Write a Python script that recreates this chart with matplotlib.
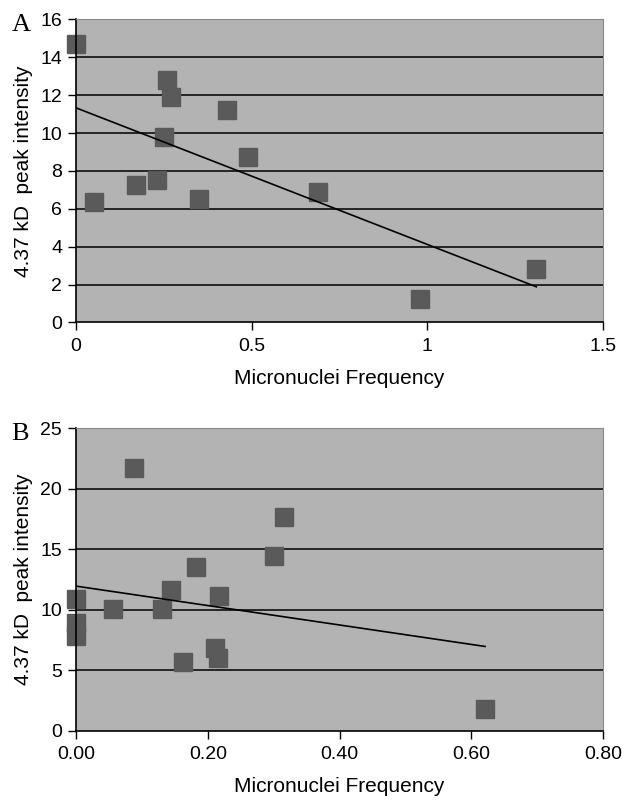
import numpy as np
import matplotlib
matplotlib.use("Agg")
import matplotlib.pyplot as plt

# panel A data
freq_a = [0.0, 0.26, 0.27, 0.43, 0.25, 0.49, 0.17, 0.23, 0.05, 0.35, 0.69, 0.98, 1.31]
peak_a = [14.7, 12.8, 11.9, 11.2, 9.8, 8.75, 7.26, 7.53, 6.38, 6.5, 6.9, 1.26, 2.82]

# panel B data
freq_b = [0.0875, 0.315, 0.300, 0.182, 0.144, 0.217, 0.0, 0.0555, 0.13, 0.0, 0.0,
          0.211, 0.216, 0.163, 0.621]
peak_b = [21.7, 17.65, 14.45, 13.5, 11.6, 11.1, 10.9, 10.05, 10.1, 8.9, 7.8,
          6.83, 6.0, 5.72, 1.8]

xticks_a = [0, 0.5, 1, 1.5]
xticklabels_a = ["0", "0.5", "1", "1.5"]
yticks_a = [0, 2, 4, 6, 8, 10, 12, 14, 16]
xticks_b = [0, 0.2, 0.4, 0.6, 0.8]
xticklabels_b = ["0.00", "0.20", "0.40", "0.60", "0.80"]
yticks_b = [0, 5, 10, 15, 20, 25]

plt.rcParams["font.family"] = ["Liberation Sans", "DejaVu Sans"]

bg = "#b3b3b3"
mark = "#5a5a5a"

fig = plt.figure(figsize=(6.22, 8.0), dpi=100)
ax_a = fig.add_axes([0.1222, 0.5969, 0.8473, 0.3788])
ax_b = fig.add_axes([0.1222, 0.0866, 0.8473, 0.3780])


def draw_panel(ax, x, y, xticks, xlabels, yticks, letter):
    ax.set_facecolor(bg)
    for t in yticks[1:-1]:
        ax.axhline(t, color="black", lw=1.1, zorder=1)
    ax.plot(x, y, "s", ms=13.5, color=mark, mec=mark, zorder=2, clip_on=False)

    # linear trendline over the data range
    k, b = np.polyfit(x, y, 1)
    xs = np.array([min(x), max(x)])
    ax.plot(xs, k * xs + b, color="black", lw=1.2, zorder=3)

    ax.set_xlim(xticks[0], xticks[-1])
    ax.set_ylim(yticks[0], yticks[-1])
    ax.set_xticks(xticks)
    ax.set_xticklabels(xlabels)
    ax.set_yticks(yticks)
    ax.tick_params(direction="out", length=6, width=1.0, labelsize=14, color="black")
    ax.tick_params(axis="y", pad=4)
    ax.tick_params(axis="x", pad=5)
    ax.spines["left"].set_color("black")
    ax.spines["bottom"].set_color("black")
    ax.spines["left"].set_linewidth(1.2)
    ax.spines["bottom"].set_linewidth(1.2)
    ax.spines["top"].set_color("#8a8a8a")
    ax.spines["right"].set_color("#8a8a8a")
    ax.set_xlabel("Micronuclei Frequency", fontsize=15, labelpad=10)
    ax.set_ylabel("4.37 kD  peak intensity", fontsize=15, labelpad=5)
    ax.text(-0.122, 0.963, letter, transform=ax.transAxes, fontsize=19,
            family="Liberation Serif", va="baseline", ha="left")


draw_panel(ax_a, freq_a, peak_a, xticks_a, xticklabels_a, yticks_a, "A")
draw_panel(ax_b, freq_b, peak_b, xticks_b, xticklabels_b, yticks_b, "B")

fig.savefig("out.png", dpi=100)
